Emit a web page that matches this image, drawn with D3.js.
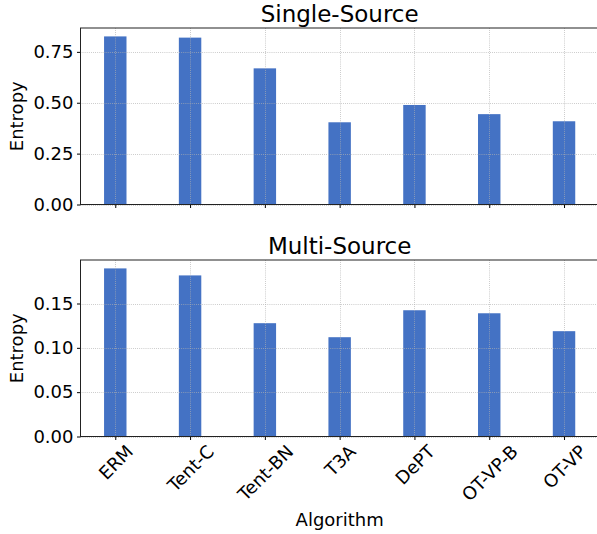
<!DOCTYPE html>
<html>
<head>
<meta charset="utf-8">
<script src="https://cdn.jsdelivr.net/npm/d3@7"></script>
<style>
  body { margin: 0; background: #fff; }
  text { font-family: "DejaVu Sans", sans-serif; fill: #000; }
</style>
</head>
<body>
<div id="chart"></div>
<script>
// data
var algorithms = ["ERM", "Tent-C", "Tent-BN", "T3A", "DePT", "OT-VP-B", "OT-VP"];
var singleSource = [0.826, 0.820, 0.669, 0.404, 0.489, 0.444, 0.409];
var multiSource = [0.1896, 0.1817, 0.1278, 0.1120, 0.1424, 0.1390, 0.1188];
var singleTicks = [0, 0.25, 0.5, 0.75];
var multiTicks = [0, 0.05, 0.10, 0.15];

var width = 597, height = 534;
var left = 80.5, right = 598.8;
var barColor = "#4472C4";
var fs = 18;

var svg = d3.select("#chart").append("svg")
	.attr("width", width)
	.attr("height", height);

// x scale like matplotlib: bars at 0..6, width 0.3, 5% margins
var x = d3.scaleLinear().domain([-0.465, 6.465]).range([left, right]);

function panel(title, values, ticks, top, bottom, showLabels) {
	var ymax = d3.max(values) * 1.05;
	var y = d3.scaleLinear().domain([0, ymax]).range([bottom, top]);
	var g = svg.append("g");

	// bars
	g.selectAll("rect.bar")
		.data(values)
		.enter().append("rect")
		.attr("class", "bar")
		.attr("x", function(d, i) { return x(i - 0.15); })
		.attr("width", function() { return x(0.15) - x(-0.15); })
		.attr("y", function(d) { return y(d); })
		.attr("height", function(d) { return y(0) - y(d); })
		.style("fill", barColor);

	// grid on top of bars
	var grid = g.append("g")
		.attr("stroke", "#b0b0b0")
		.attr("stroke-width", 0.8)
		.attr("stroke-dasharray", "0.8,1.3");
	ticks.forEach(function(t) {
		grid.append("line")
			.attr("x1", left).attr("x2", right)
			.attr("y1", Math.round(y(t)) + 0.5).attr("y2", Math.round(y(t)) + 0.5);
	});
	algorithms.forEach(function(a, i) {
		grid.append("line")
			.attr("x1", Math.round(x(i)) + 0.5).attr("x2", Math.round(x(i)) + 0.5)
			.attr("y1", top).attr("y2", bottom);
	});

	// y axis
	var yAxis = d3.axisLeft(y)
		.tickValues(ticks)
		.tickFormat(d3.format(".2f"))
		.tickSize(3.5)
		.tickPadding(3.5);
	var ya = g.append("g")
		.attr("transform", "translate(" + left + ",0)")
		.call(yAxis);
	ya.select(".domain").remove();
	ya.selectAll("text").style("font-size", fs + "px").style("font-family", "DejaVu Sans");

	// x axis
	var xAxis = d3.axisBottom(x)
		.tickValues(d3.range(algorithms.length))
		.tickFormat(function(i) { return showLabels ? algorithms[i] : ""; })
		.tickSize(3.5)
		.tickPadding(3.5);
	var xa = g.append("g")
		.attr("transform", "translate(0," + bottom + ")")
		.call(xAxis);
	xa.select(".domain").remove();

	if (showLabels) {
		xa.selectAll(".tick text").each(function() {
			var t = d3.select(this);
			t.style("font-size", fs + "px").style("font-family", "DejaVu Sans")
				.attr("text-anchor", "middle")
				.attr("dy", null)
				.attr("dominant-baseline", "central");
			var w = this.getComputedTextLength();
			var h = fs * 1.05;
			var off = (w + h) * Math.SQRT1_2 / 2;
			t.attr("y", 0)
				.attr("transform", "translate(0," + (5 + off) + ") rotate(-45)");
		});
	}

	// spines
	g.append("rect")
		.attr("x", left).attr("y", top)
		.attr("width", right - left).attr("height", bottom - top)
		.style("fill", "none")
		.style("stroke", "#222")
		.style("stroke-width", 1);

	// title
	g.append("text")
		.attr("x", (left + right) / 2)
		.attr("y", top - 6)
		.attr("text-anchor", "middle")
		.style("font-size", "23px")
		.text(title);

	// y label
	g.append("text")
		.attr("transform", "translate(23," + (top + bottom) / 2 + ") rotate(-90)")
		.attr("text-anchor", "middle")
		.style("font-size", fs + "px")
		.text("Entropy");
}

panel("Single-Source", singleSource, singleTicks, 28, 204.5, false);
panel("Multi-Source", multiSource, multiTicks, 260, 436.5, true);

svg.append("text")
	.attr("x", (left + right) / 2)
	.attr("y", 526)
	.attr("text-anchor", "middle")
	.style("font-size", fs + "px")
	.text("Algorithm");
</script>
</body>
</html>
